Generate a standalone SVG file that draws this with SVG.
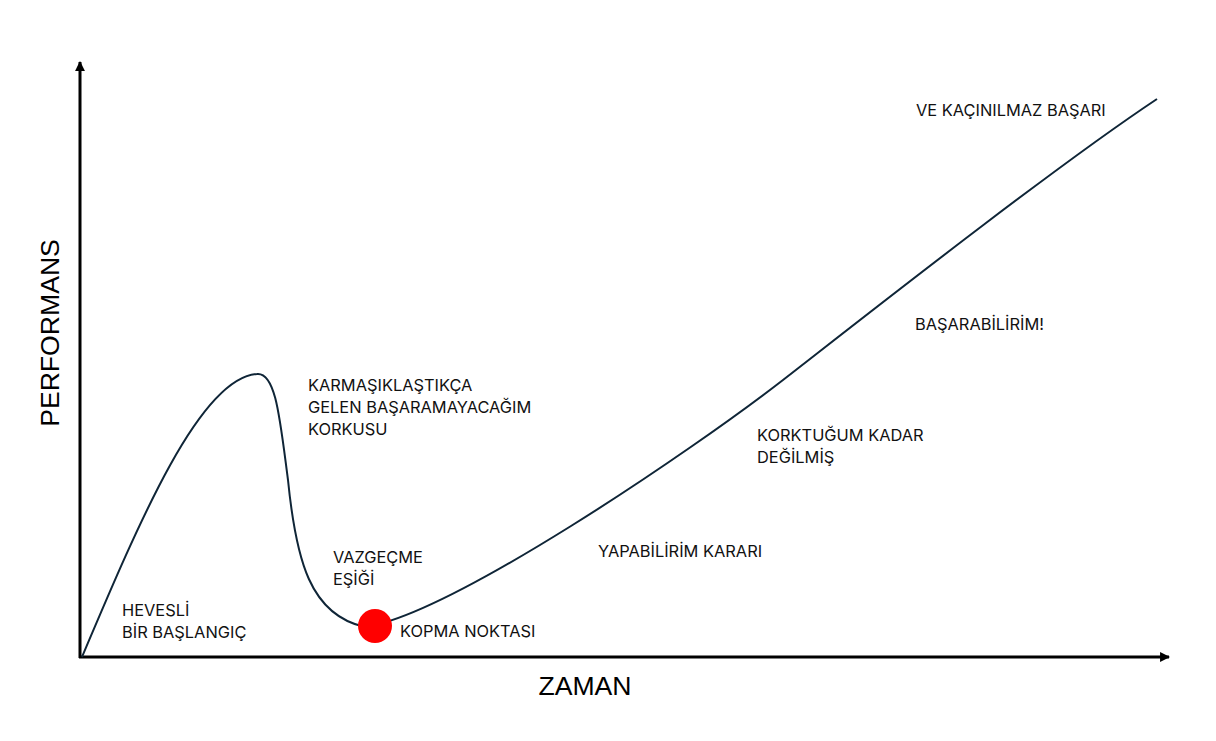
<svg xmlns="http://www.w3.org/2000/svg" width="1216" height="741" viewBox="0 0 1216 741">
<style>
.lbl{font-family:Inter,"Liberation Sans",sans-serif;font-size:16.4px;fill:#111}
.ax{font-family:"Liberation Sans",Arial,sans-serif;font-size:26.6px;fill:#000}
</style>
<defs>
<marker id="ah" viewBox="0 0 10 10" refX="9" refY="5" markerWidth="3.3" markerHeight="3.3" orient="auto" markerUnits="strokeWidth">
<path d="M0,0 L10,5 L0,10 Z" fill="#000"/>
</marker>
</defs>
<rect width="1216" height="741" fill="#fff"/>
<g id="connectors">
<line x1="80" y1="658" x2="80" y2="62" stroke="#000" stroke-width="3" marker-end="url(#ah)"/>
<line x1="79" y1="657" x2="1169" y2="657" stroke="#000" stroke-width="3" marker-end="url(#ah)"/>
<path d="M82,657 C140,520 200,378 257,374 C276,372 280,420 288,480 C296,560 310,615 365,627 C450,615 690,452 783,380 C850,328 1050,170 1157,99" fill="none" stroke="#0f2537" stroke-width="2"/>
</g>
<g id="kopma-dot"><circle cx="375" cy="626" r="17" fill="#f00"/></g>
<g id="y-label"><text class="ax" transform="translate(59,333) rotate(-90)" text-anchor="middle">PERFORMANS</text></g>
<g id="x-label"><text class="ax" x="585" y="695" text-anchor="middle">ZAMAN</text></g>
<g id="hevesli"><text class="lbl" x="122" y="616">HEVESLİ</text><text class="lbl" x="122" y="638">BİR BAŞLANGIÇ</text></g>
<g id="karmasik"><text class="lbl" x="308" y="391">KARMAŞIKLAŞTIKÇA</text><text class="lbl" x="308" y="413">GELEN BAŞARAMAYACAĞIM</text><text class="lbl" x="308" y="435">KORKUSU</text></g>
<g id="vazgecme"><text class="lbl" x="333" y="563">VAZGEÇME</text><text class="lbl" x="333" y="585">EŞİĞİ</text></g>
<g id="kopma"><text class="lbl" x="400" y="637">KOPMA NOKTASI</text></g>
<g id="yapabilirim"><text class="lbl" x="598" y="557">YAPABİLİRİM KARARI</text></g>
<g id="korktugum"><text class="lbl" x="757" y="441">KORKTUĞUM KADAR</text><text class="lbl" x="757" y="463">DEĞİLMİŞ</text></g>
<g id="basarabilirim"><text class="lbl" x="915" y="330">BAŞARABİLİRİM!</text></g>
<g id="kacinilmaz"><text class="lbl" x="916" y="116">VE KAÇINILMAZ BAŞARI</text></g>
</svg>
